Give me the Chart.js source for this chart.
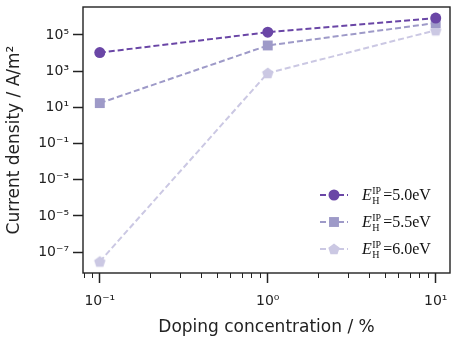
<!DOCTYPE html>
<html>
<head>
<meta charset="utf-8">
<script src="https://cdn.jsdelivr.net/npm/chart.js@4/dist/chart.umd.min.js"></script>
<style>
  html, body { margin: 0; padding: 0; background: #fff; }
  #wrap { width: 457px; height: 338px; position: relative; }
</style>
</head>
<body>
<div id="wrap"><canvas id="chart"></canvas></div>
<script>
const doping = [0.1, 1, 10];
const series50 = [1.05e4, 1.4e5, 8.5e5];
const series55 = [17, 2.6e4, 4.5e5];
const series60 = [3e-8, 780, 1.8e5];
const labels = ['5.0', '5.5', '6.0'];
const colors = ['#6a46a6', '#9e9ac8', '#cbc8e3'];

const xTicks = [0.1, 1, 10];
const yTicks = [1e-7, 1e-5, 1e-3, 1e-1, 1e1, 1e3, 1e5];

const sup = { '-': '⁻', '0': '⁰', '1': '¹', '2': '²', '3': '³', '4': '⁴', '5': '⁵', '6': '⁶', '7': '⁷', '8': '⁸', '9': '⁹' };
function powLabel(v) {
    const e = Math.round(Math.log10(v)).toString();
    return '10' + e.split('').map(c => sup[c]).join('');
}

function pts(ys) {
    return doping.map((x, i) => ({ x: x, y: ys[i] }));
}

// pentagon marker drawn on a small canvas
function pentagon(color, r) {
    const c = document.createElement('canvas');
    c.width = c.height = r * 2 + 2;
    const g = c.getContext('2d');
    g.fillStyle = color;
    g.beginPath();
    for (let k = 0; k < 5; k++) {
        const a = -Math.PI / 2 + k * 2 * Math.PI / 5;
        const px = r + 1 + r * Math.cos(a), py = r + 1 + r * Math.sin(a) + 0.5;
        if (k == 0) g.moveTo(px, py); else g.lineTo(px, py);
    }
    g.closePath();
    g.fill();
    return c;
}

const markers = ['circle', 'rect', pentagon(colors[2], 6)];
const radii = [5.5, 7, 5.5];

const seriesList = [series50, series55, series60];
const datasets = seriesList.map((s, i) => ({
    label: labels[i],
    data: pts(s),
    borderColor: colors[i],
    backgroundColor: colors[i],
    borderWidth: 2,
    borderDash: [6, 3],
    pointStyle: markers[i],
    pointRadius: radii[i],
    pointBorderWidth: 0,
    showLine: true
}));

const noPad = () => ({ left: 0, top: 0, right: 0, bottom: 0 });

const frameAndTicks = {
    id: 'frameAndTicks',
    afterDraw(chart) {
        const ctx = chart.ctx;
        const a = chart.chartArea;
        const xs = chart.scales.x;
        ctx.save();
        ctx.strokeStyle = '#222';
        ctx.lineWidth = 1.4;
        ctx.strokeRect(a.left, a.top, a.right - a.left, a.bottom - a.top);
        // minor x ticks
        ctx.lineWidth = 1;
        for (let d = -2; d <= 1; d++) {
            for (let m = 2; m <= 9; m++) {
                const v = m * Math.pow(10, d);
                if (v < xs.min || v > xs.max) continue;
                const px = Math.round(xs.getPixelForValue(v)) + 0.5;
                ctx.beginPath();
                ctx.moveTo(px, a.bottom);
                ctx.lineTo(px, a.bottom + 5);
                ctx.stroke();
            }
        }
        // legend
        const rows = [195, 222, 249];
        const serif = '"Liberation Serif", "DejaVu Serif", serif';
        chart.data.datasets.forEach((ds, i) => {
            const y = rows[i];
            ctx.strokeStyle = ds.borderColor;
            ctx.lineWidth = 2;
            ctx.setLineDash([6, 3]);
            ctx.beginPath();
            ctx.moveTo(320, y);
            ctx.lineTo(348, y);
            ctx.stroke();
            ctx.setLineDash([]);
            ctx.fillStyle = ds.backgroundColor;
            Chart.helpers.drawPoint(ctx, {
                pointStyle: ds.pointStyle, radius: radii[i], borderWidth: 0, rotation: 0
            }, 334, y);
            ctx.fillStyle = '#111';
            let tx = 362;
            ctx.font = 'italic 16px ' + serif;
            ctx.fillText('E', tx, y + 5);
            tx += ctx.measureText('E').width + 0.5;
            ctx.font = '10px ' + serif;
            ctx.fillText('IP', tx, y - 1);
            ctx.fillText('H', tx, y + 9);
            tx += ctx.measureText('IP').width + 2;
            ctx.font = '16px ' + serif;
            ctx.fillText('=' + ds.label + 'eV', tx, y + 5);
        });
        ctx.restore();
    }
};

new Chart(document.getElementById('chart'), {
    type: 'scatter',
    data: { datasets: datasets },
    options: {
        responsive: true,
        maintainAspectRatio: false,
        animation: false,
        layout: { padding: { left: 4, right: 5, top: 2, bottom: 0 } },
        plugins: { legend: { display: false }, tooltip: { enabled: false } },
        scales: {
            x: {
                type: 'logarithmic',
                min: Math.pow(10, -1.10),
                max: Math.pow(10, 1.085),
                afterBuildTicks: s => { s.ticks = xTicks.map(v => ({ value: v })); },
                afterFit: s => { s.height = 65; s.getPadding = noPad; },
                grid: { drawOnChartArea: false, tickLength: 10, color: '#222', tickWidth: 1.5 },
                border: { display: false },
                ticks: {
                    callback: v => powLabel(v),
                    color: '#222',
                    font: { family: 'DejaVu Sans', size: 14 },
                    maxRotation: 0,
                    padding: 10
                },
                title: {
                    display: true,
                    text: 'Doping concentration / %',
                    color: '#222',
                    font: { family: 'DejaVu Sans', size: 17 },
                    padding: { top: 2, bottom: 0 }
                }
            },
            y: {
                type: 'logarithmic',
                min: Math.pow(10, -8.15),
                max: Math.pow(10, 6.54),
                afterBuildTicks: s => { s.ticks = yTicks.map(v => ({ value: v })); },
                afterFit: s => { s.width = 79; s.getPadding = noPad; },
                grid: { drawOnChartArea: false, tickLength: 10, color: '#222', tickWidth: 1.5 },
                border: { display: false },
                ticks: {
                    callback: v => powLabel(v),
                    color: '#222',
                    font: { family: 'DejaVu Sans', size: 14 },
                    padding: 4
                },
                title: {
                    display: true,
                    text: 'Current density / A/m²',
                    color: '#222',
                    font: { family: 'DejaVu Sans', size: 17 },
                    padding: { top: 0, bottom: 2 }
                }
            }
        }
    },
    plugins: [frameAndTicks]
});
</script>
</body>
</html>
